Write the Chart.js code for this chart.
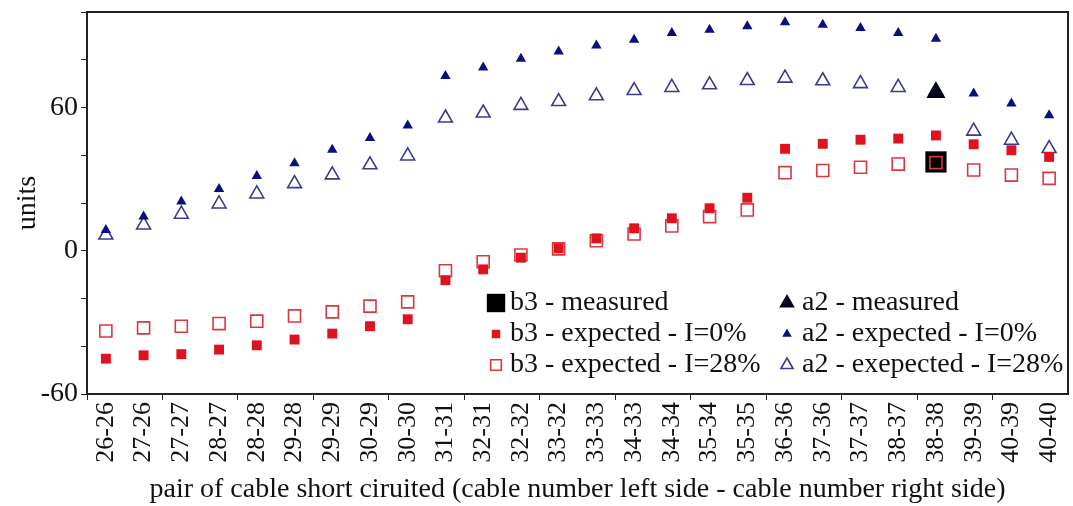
<!DOCTYPE html>
<html>
<head>
<meta charset="utf-8">
<script src="https://cdn.jsdelivr.net/npm/chart.js@4.4.1/dist/chart.umd.min.js"></script>
<style>
    html, body { margin: 0; padding: 0; background: #fff; }
    #wrap { width: 1073px; height: 506px; }
</style>
</head>
<body>
<div id="wrap"><canvas id="shortChart" width="1073" height="506"></canvas></div>
<script>
const pairs = ['26-26', '27-26', '27-27', '28-27', '28-28', '29-28', '29-29', '30-29', '30-30',
    '31-31', '32-31', '32-32', '33-32', '33-33', '34-33', '34-34', '35-34', '35-35',
    '36-36', '37-36', '37-37', '38-37', '38-38', '39-39', '40-39', '40-40'];

const b3Expected0 = [-45.2, -43.8, -43.3, -41.4, -39.6, -37.2, -34.7, -31.6, -28.7,
    -12.3, -7.8, -2.9, 1.0, 5.2, 9.4, 13.6, 17.8, 22.2,
    42.7, 44.8, 46.5, 47.0, 48.3, 44.6, 42.1, 39.3];
const b3Expected28 = [-33.6, -32.3, -31.6, -30.5, -29.5, -27.3, -25.6, -23.2, -21.4,
    -8.4, -4.6, -1.8, 0.8, 4.2, 7.0, 10.4, 14.3, 17.1,
    32.7, 33.6, 35.0, 36.3, 36.9, 33.8, 31.7, 30.3];
const a2Expected0 = [8.7, 14.3, 20.6, 25.9, 31.3, 36.7, 42.3, 47.2, 52.5,
    73.2, 76.8, 80.4, 83.5, 86.0, 88.4, 91.2, 92.6, 94.0,
    95.7, 94.7, 93.3, 91.2, 88.8, 65.9, 61.7, 56.8];
const a2Expected28 = [6.6, 10.8, 15.3, 19.6, 23.8, 28.1, 31.8, 36.0, 39.7,
    55.6, 57.7, 60.9, 62.5, 64.9, 67.1, 68.4, 69.5, 71.3,
    72.3, 71.2, 70.0, 68.4, 67.0, 50.1, 46.3, 42.8];

const measuredPair = '38-38';
const b3Measured = 37.2;
const a2Measured = 66.3;

const yTicks = [-60, 0, 60];

const RED = '#e0121d';
const RED_OPEN = '#d93840';
const NAVY = '#0b0f7e';
const NAVY_OPEN = '#3a3b8e';
const FONT = "'Liberation Serif', 'Times New Roman', serif";

Chart.defaults.font.family = FONT;
Chart.defaults.color = '#111';

const onlyMeasured = value => pairs.map(p => p === measuredPair ? value : null);

// draws one legend marker the same way chart.js draws rect / triangle points
const drawMarker = (ctx, style, x, y, r, fill, stroke, lw) => {
    ctx.beginPath();
    if (style === 'rect') {
        let s = r * Math.SQRT1_2;
        ctx.rect(x - s, y - s, 2 * s, 2 * s);
    } else {
        ctx.moveTo(x, y - r);
        ctx.lineTo(x + r * 0.866, y + r * 0.5);
        ctx.lineTo(x - r * 0.866, y + r * 0.5);
        ctx.closePath();
    }
    if (fill) {
        ctx.fillStyle = fill;
        ctx.fill();
    }
    if (stroke) {
        ctx.strokeStyle = stroke;
        ctx.lineWidth = lw;
        ctx.stroke();
    }
};

const framePlugin = {
    id: 'frame',
    beforeDatasetsDraw(chart) {
        const {ctx, chartArea} = chart;
        ctx.save();
        ctx.strokeStyle = '#222';
        ctx.lineWidth = 2;
        ctx.strokeRect(chartArea.left, chartArea.top, chartArea.right - chartArea.left, chartArea.bottom - chartArea.top);
        ctx.restore();
    }
};

const legendPlugin = {
    id: 'boxLegend',
    afterDatasetsDraw(chart) {
        const ctx = chart.ctx;
        const cols = [{marker: 496, text: 510}, {marker: 787, text: 802}];
        const rows = [303, 334, 365];
        ctx.save();
        ctx.font = `28px ${FONT}`;
        ctx.textBaseline = 'middle';
        chart.data.datasets.forEach(ds => {
            const slot = ds.legendSlot;
            const x = cols[slot.col];
            const y = rows[slot.row];
            const fill = ds.pointBackgroundColor === 'transparent' ? null : ds.pointBackgroundColor;
            const stroke = ds.pointBorderWidth > 0 ? ds.pointBorderColor : null;
            drawMarker(ctx, ds.pointStyle, x.marker, y, slot.r, fill, stroke, ds.pointBorderWidth);
            ctx.fillStyle = '#111';
            ctx.fillText(ds.label, x.text, y);
        });
        ctx.restore();
    }
};

const ctx = document.getElementById('shortChart').getContext('2d');

const shortChart = new Chart(ctx, {
    type: 'line',
    data: {
        labels: pairs,
        datasets: [
            {
                label: 'b3 - measured',
                data: onlyMeasured(b3Measured),
                pointStyle: 'rect', pointRadius: 15,
                pointBackgroundColor: '#000', pointBorderColor: '#000', pointBorderWidth: 0,
                order: 10, legendSlot: {col: 0, row: 0, r: 13}
            },
            {
                label: 'b3 - expected - I=0%',
                data: b3Expected0,
                pointStyle: 'rect', pointRadius: 7,
                pointBackgroundColor: RED, pointBorderColor: RED, pointBorderWidth: 0,
                order: 2, legendSlot: {col: 0, row: 1, r: 6}
            },
            {
                label: 'b3 - expected - I=28%',
                data: b3Expected28,
                pointStyle: 'rect', pointRadius: 8.5,
                pointBackgroundColor: 'transparent', pointBorderColor: RED_OPEN, pointBorderWidth: 1.6,
                order: 3, legendSlot: {col: 0, row: 2, r: 7.5}
            },
            {
                label: 'a2 - measured',
                data: onlyMeasured(a2Measured),
                pointStyle: 'triangle', pointRadius: 11,
                pointBackgroundColor: '#05051a', pointBorderColor: '#05051a', pointBorderWidth: 0,
                order: 1, legendSlot: {col: 1, row: 0, r: 9}
            },
            {
                label: 'a2 - expected - I=0%',
                data: a2Expected0,
                pointStyle: 'triangle', pointRadius: 6,
                pointBackgroundColor: NAVY, pointBorderColor: NAVY, pointBorderWidth: 0,
                order: 4, legendSlot: {col: 1, row: 1, r: 5.5}
            },
            {
                label: 'a2 - exepected - I=28%',
                data: a2Expected28,
                pointStyle: 'triangle', pointRadius: 8,
                pointBackgroundColor: 'transparent', pointBorderColor: NAVY_OPEN, pointBorderWidth: 1.6,
                order: 5, legendSlot: {col: 1, row: 2, r: 7}
            }
        ]
    },
    options: {
        responsive: false,
        animation: false,
        showLine: false,
        layout: {
            autoPadding: false,
            padding: {top: 12, right: 5, left: 0, bottom: 0}
        },
        plugins: {
            legend: {display: false},
            tooltip: {enabled: false}
        },
        scales: {
            x: {
                offset: true,
                afterFit: scale => {
                    scale.height = 112;
                    scale.paddingLeft = 0;
                    scale.paddingRight = 0;
                },
                grid: {
                    drawOnChartArea: false,
                    tickLength: 6,
                    offset: true,
                    color: c => c.index % 2 === 0 ? '#222' : 'transparent'
                },
                border: {display: true, color: '#222', width: 2},
                ticks: {
                    autoSkip: false,
                    maxRotation: 90,
                    minRotation: 90,
                    padding: 2,
                    font: {size: 26}
                },
                title: {
                    display: true,
                    text: 'pair of cable short ciruited (cable number left side - cable number right side)',
                    font: {size: 28},
                    padding: {top: 0, bottom: 0}
                }
            },
            y: {
                min: -60,
                max: 100,
                afterFit: scale => {
                    scale.width = 87;
                    scale.paddingTop = 0;
                    scale.paddingBottom = 0;
                },
                grid: {
                    drawOnChartArea: false,
                    tickLength: 6,
                    color: '#222'
                },
                border: {display: true, color: '#222', width: 2},
                ticks: {
                    stepSize: 20,
                    autoSkip: false,
                    padding: 3,
                    font: {size: 28},
                    callback: value => yTicks.includes(value) ? value : ''
                },
                title: {
                    display: true,
                    text: 'units',
                    font: {size: 28},
                    padding: {top: 11, bottom: 0}
                }
            }
        }
    },
    plugins: [framePlugin, legendPlugin]
});
</script>
</body>
</html>
